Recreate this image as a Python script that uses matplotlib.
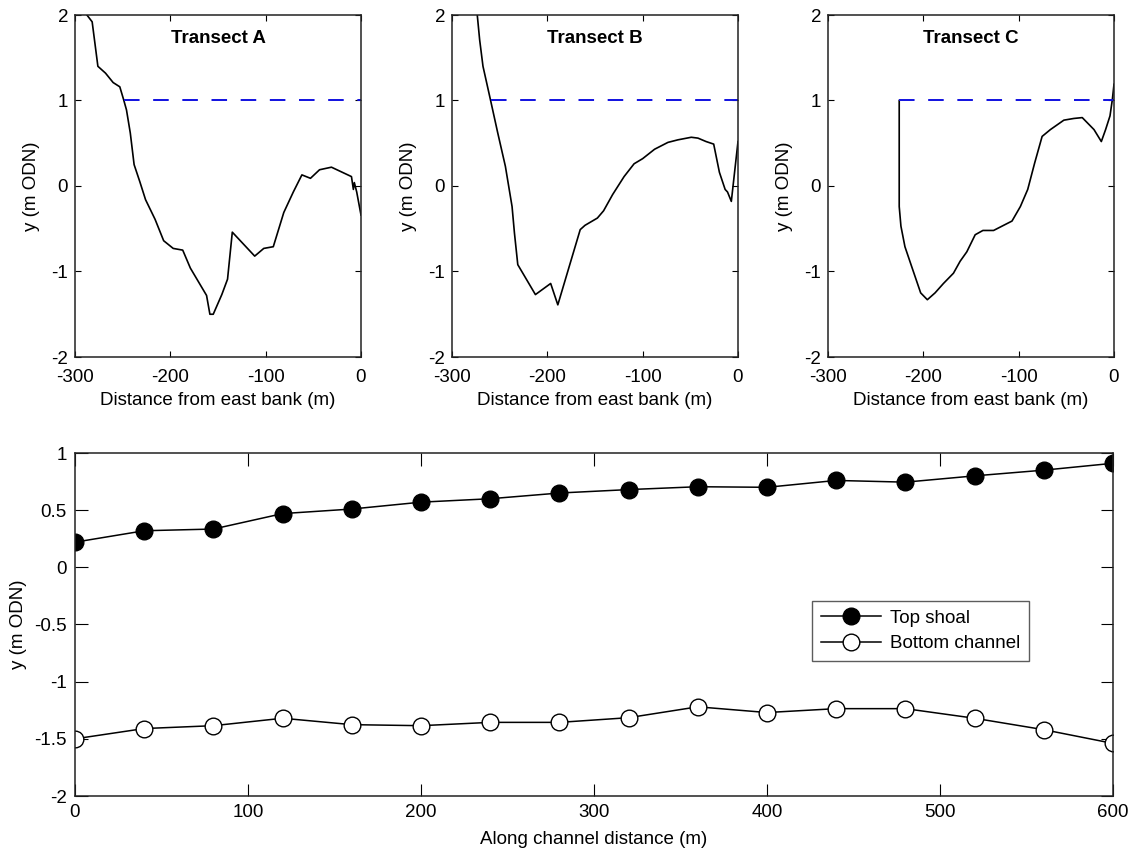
import matplotlib
matplotlib.use("Agg")
import matplotlib.pyplot as plt
from matplotlib.ticker import FormatStrFormatter

plt.rcParams["font.family"] = ["Liberation Sans", "DejaVu Sans"]
plt.rcParams["axes.unicode_minus"] = False

# Cross-channel bed profiles (distance from east bank in m, elevation in m ODN)
transect_a_x = [-287.5, -282, -276, -268, -260, -253, -249, -246, -242, -238, -232, -226,
                -216, -207, -197, -187, -179, -162, -158.5, -155, -146, -140, -135,
                -111.5, -102, -92, -81, -71, -62, -53, -43.5, -31, -10, -8, -7, -4.5, 0]
transect_a_y = [2.0, 1.92, 1.40, 1.32, 1.21, 1.16, 1.01, 0.89, 0.62, 0.25, 0.05, -0.16,
                -0.39, -0.64, -0.73, -0.75, -0.96, -1.28, -1.50, -1.50, -1.27, -1.09, -0.54,
                -0.82, -0.73, -0.71, -0.31, -0.07, 0.13, 0.09, 0.19, 0.22, 0.11, -0.04, 0.04,
                -0.07, -0.34]

transect_b_x = [-273.5, -271, -267.5, -259.5, -252, -244, -237, -234.5, -231, -212.5, -196.5,
                -189, -177, -165.5, -160.5, -147.5, -141, -131.5, -119.5, -109, -100, -87.5,
                -73.5, -63, -49, -42, -33.5, -25.5, -19.5, -13.5, -11, -7, 0]
transect_b_y = [2.0, 1.71, 1.40, 1.0, 0.62, 0.23, -0.24, -0.55, -0.92, -1.27, -1.14,
                -1.39, -0.94, -0.51, -0.46, -0.375, -0.29, -0.10, 0.11, 0.26, 0.32, 0.43,
                0.51, 0.54, 0.57, 0.56, 0.52, 0.49, 0.16, -0.04, -0.07, -0.18, 0.52]

transect_c_x = [-225.3, -225.3, -223.5, -219.3, -212.3, -202.8, -195.8, -187.7, -178.9, -168.4,
                -161.4, -154.4, -145.6, -137.5, -126.3, -115.8, -107, -98.2, -90.5, -83.2,
                -75.4, -66.7, -52.6, -42.1, -33.3, -21, -13.3, -8.8, -4.2, -1.75, 0]
transect_c_y = [1.0, -0.24, -0.47, -0.71, -0.94, -1.25, -1.33, -1.25, -1.14, -1.02,
                -0.88, -0.77, -0.57, -0.52, -0.52, -0.46, -0.41, -0.24, -0.04, 0.27,
                0.58, 0.66, 0.77, 0.79, 0.80, 0.66, 0.52, 0.66, 0.82, 1.01, 1.19]

# Water level reference (m ODN) and where it meets the east bank profile
water_level = 1.0
water_start = {"A": -249, "B": -259.5, "C": -225.3}

# Along-channel elevations
along_x = [0, 40, 80, 120, 160, 200, 240, 280, 320, 360, 400, 440, 480, 520, 560, 600]
top_shoal = [0.22, 0.32, 0.335, 0.47, 0.51, 0.57, 0.60, 0.65, 0.68, 0.705, 0.70, 0.76,
             0.745, 0.80, 0.85, 0.91]
bottom_channel = [-1.50, -1.41, -1.385, -1.32, -1.376, -1.385, -1.356, -1.356, -1.315,
                  -1.22, -1.27, -1.236, -1.236, -1.32, -1.42, -1.54]

W, H = 1130, 855
fig = plt.figure(figsize=(W / 100, H / 100), dpi=100)

FS = 13.5


def style_axes(ax, ticklen, xpad, ypad):
    ax.tick_params(direction="in", length=ticklen, width=0.8, top=True, right=True,
                   labelsize=FS, colors="black")
    ax.tick_params(axis="x", pad=xpad)
    ax.tick_params(axis="y", pad=ypad)
    for s in ax.spines.values():
        s.set_linewidth(1.1)
        s.set_color("#222222")


panels = [
    ("A", 75, transect_a_x, transect_a_y),
    ("B", 452, transect_b_x, transect_b_y),
    ("C", 828, transect_c_x, transect_c_y),
]
for name, left_px, xs, ys in panels:
    ax = fig.add_axes([left_px / W, (H - 357) / H, 286 / W, 342 / H])
    ax.plot(xs, ys, color="black", lw=1.2)
    ax.plot([water_start[name], 0], [water_level, water_level], color="#1010e0",
            lw=1.4, dashes=(8, 7))
    ax.set_xlim(-300, 0)
    ax.set_ylim(-2, 2)
    ax.set_xticks([-300, -200, -100, 0])
    ax.set_yticks([-2, -1, 0, 1, 2])
    ax.text(0.5, 0.93, f"Transect {name}", transform=ax.transAxes, ha="center",
            va="center", fontsize=FS, fontweight="bold")
    ax.set_xlabel("Distance from east bank (m)", fontsize=FS, labelpad=4)
    ax.set_ylabel("y (m ODN)", fontsize=FS, labelpad=8)
    style_axes(ax, 4, 9, 5)

axb = fig.add_axes([75 / W, (H - 796) / H, 1038 / W, 343 / H])
axb.plot(along_x, top_shoal, color="black", lw=1.1, marker="o", ms=12,
         mfc="black", mec="black", label="Top shoal")
axb.plot(along_x, bottom_channel, color="black", lw=1.1, marker="o", ms=12,
         mfc="white", mec="black", mew=1.0, label="Bottom channel")
axb.set_xlim(0, 600)
axb.set_ylim(-2, 1)
axb.set_xticks([0, 100, 200, 300, 400, 500, 600])
axb.set_yticks([-2, -1.5, -1, -0.5, 0, 0.5, 1])
axb.yaxis.set_major_formatter(FormatStrFormatter("%g"))
axb.set_xlabel("Along channel distance (m)", fontsize=FS, labelpad=7)
axb.set_ylabel("y (m ODN)", fontsize=FS, labelpad=5)
style_axes(axb, 9, 6, 6)
leg = axb.legend(loc="upper right", bbox_to_anchor=(0.928, 0.595), fontsize=FS,
                 frameon=True, fancybox=False, edgecolor="#333333", handlelength=3.2,
                 borderpad=0.45, labelspacing=0.45, handletextpad=0.5)
leg.get_frame().set_linewidth(1.0)

fig.savefig("out.png", dpi=100, facecolor="white")
